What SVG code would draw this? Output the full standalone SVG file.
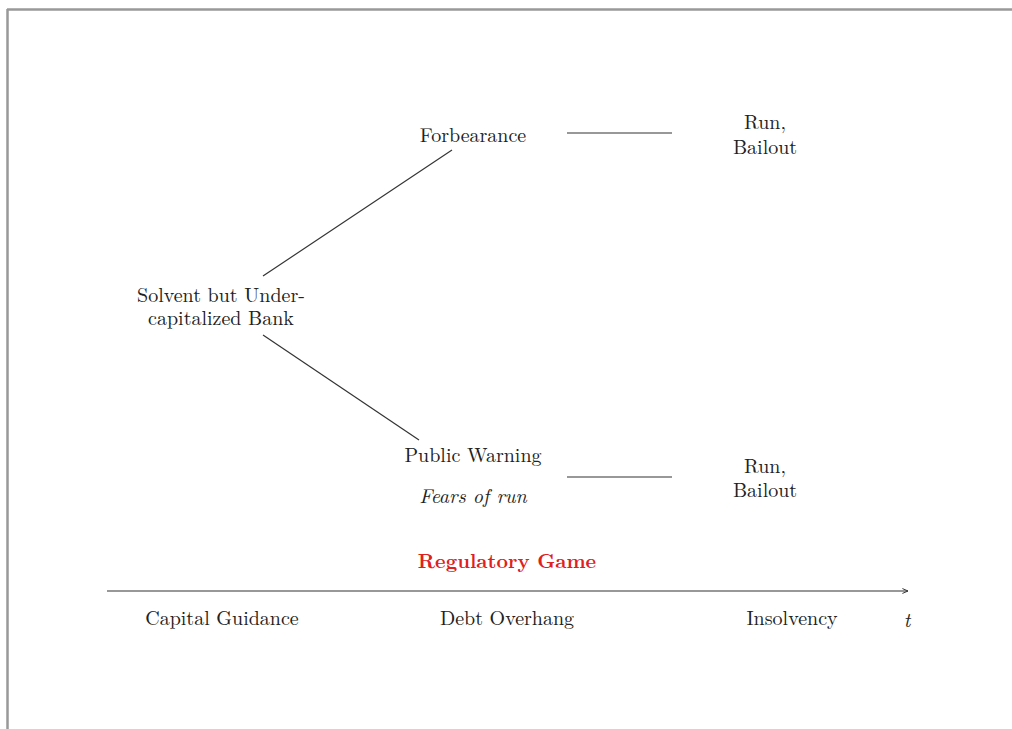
<svg xmlns="http://www.w3.org/2000/svg" width="1012" height="729" viewBox="0 0 1012 729">
<defs>
<style>
.t{font-family:"Latin Modern Roman","Liberation Serif","DejaVu Serif",serif;font-size:20px;fill:#222;text-anchor:middle}
.i{font-style:italic}
.red{fill:#e02020;font-weight:bold}
.ln{stroke:#333;stroke-width:1.2;fill:none}
</style>
<marker id="ah" viewBox="0 0 10 10" refX="9" refY="5" markerWidth="7" markerHeight="7" orient="auto" markerUnits="userSpaceOnUse">
<path d="M1,1.5 L9,5 L1,8.5" fill="none" stroke="#333" stroke-width="1.4"/>
</marker>
</defs>
<rect width="1012" height="729" fill="#fff"/>
<g id="page-border">
<line x1="7" y1="9.5" x2="1012" y2="9.5" stroke="#999" stroke-width="2.5"/>
<line x1="7.5" y1="9" x2="7.5" y2="729" stroke="#999" stroke-width="2.5"/>
</g>
<g id="connectors">
<line class="ln" x1="263" y1="276" x2="452" y2="150"/>
<line class="ln" x1="263" y1="335" x2="419" y2="440"/>
<line class="ln" x1="567" y1="133" x2="672" y2="133"/>
<line class="ln" x1="567" y1="477" x2="672" y2="477"/>
<line class="ln" x1="107" y1="591" x2="908" y2="591" marker-end="url(#ah)"/>
</g>
<g id="bank"><text class="t"><tspan x="221" y="302">Solvent but Under-</tspan><tspan x="221" y="325">capitalized Bank</tspan></text></g>
<g id="forbearance"><text class="t" x="473" y="142">Forbearance</text></g>
<g id="run1"><text class="t"><tspan x="765" y="129">Run,</tspan><tspan x="765" y="154">Bailout</tspan></text></g>
<g id="warning"><text class="t" x="473" y="462">Public Warning</text><text class="t i" x="473" y="503">Fears of run</text></g>
<g id="run2"><text class="t"><tspan x="765" y="473">Run,</tspan><tspan x="765" y="497">Bailout</tspan></text></g>
<g id="regulatory-game"><text class="t red" x="507" y="568">Regulatory Game</text></g>
<g id="timeline-labels">
<text class="t" x="222" y="625">Capital Guidance</text>
<text class="t" x="507" y="625">Debt Overhang</text>
<text class="t" x="792" y="625">Insolvency</text>
<text class="t i" x="907" y="627">t</text>
</g>
</svg>
